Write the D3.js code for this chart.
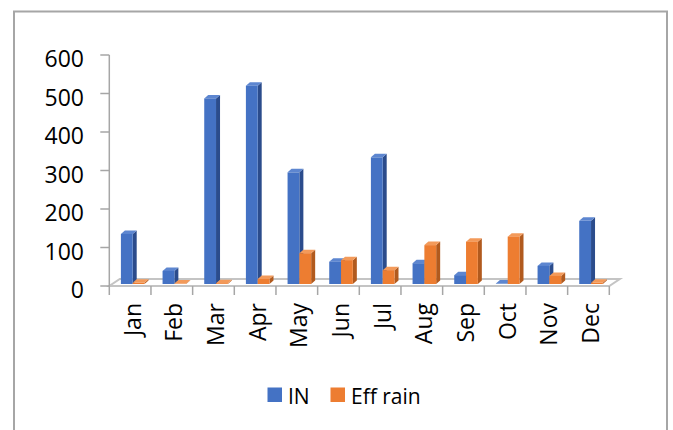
<!DOCTYPE html>
<html>
<head>
<meta charset="utf-8">
<script src="https://cdn.jsdelivr.net/npm/d3@7"></script>
<style>
  html, body { margin: 0; padding: 0; background: #ffffff; }
  svg { display: block; font-family: "Open Sans", "Noto Sans", sans-serif; }
</style>
</head>
<body>
<svg id="chart" width="673" height="430"></svg>
<script>
// Monthly rainfall: gross (IN) and effective rain
const months = ["Jan", "Feb", "Mar", "Apr", "May", "Jun", "Jul", "Aug", "Sep", "Oct", "Nov", "Dec"];
const inValues = [130, 34, 482, 515, 290, 58, 329, 54, 23, 1, 47, 164];
const effRain = [3, 1, 2, 13, 80, 62, 36, 101, 110, 123, 21, 3];
const yTicks = [0, 100, 200, 300, 400, 500, 600];
const seriesNames = ["IN", "Eff rain"];

const palette = {
  IN: { front: "#4472C4", side: "#2B4C8C", top: "#5D86D0" },
  "Eff rain": { front: "#ED7D31", side: "#B15A1E", top: "#F39A5A" }
};

const svg = d3.select("#chart");

// chart frame
svg.append("rect")
  .attr("x", 14).attr("y", 11.5)
  .attr("width", 653).attr("height", 440)
  .attr("fill", "none").attr("stroke", "#a6a6a6").attr("stroke-width", 2);

const x = d3.scaleBand().domain(months).range([109.3, 609.3]).padding(0);
const y = d3.scaleLinear().domain([0, 600]).range([286, 55]);

// 3D depth offsets
const floorDx = 10.5, floorDy = -7;
const barDx = 4, barDy = -3.5;
const baseShift = -2;          // bars stand part-way into the floor
const barW = 11.8;

const axisColor = "#a6a6a6";

// floor
const fl = [
  [x.range()[0], y(0)], [x.range()[1], y(0)],
  [x.range()[1] + floorDx, y(0) + floorDy], [x.range()[0] + floorDx, y(0) + floorDy]
];
svg.append("path")
  .attr("d", d3.line()(fl) + "Z")
  .attr("fill", "#ffffff").attr("stroke", "#c4c4c4").attr("stroke-width", 2);

// value axis
svg.append("line")
  .attr("x1", x.range()[0]).attr("x2", x.range()[0])
  .attr("y1", y(600)).attr("y2", y(0))
  .attr("stroke", axisColor).attr("stroke-width", 1.5);

const yAxis = svg.append("g");
yAxis.selectAll("line.tick").data(yTicks).join("line")
  .attr("x1", x.range()[0] - 9).attr("x2", x.range()[0])
  .attr("y1", d => y(d)).attr("y2", d => y(d))
  .attr("stroke", axisColor).attr("stroke-width", 1.5);
yAxis.selectAll("text").data(yTicks).join("text")
  .attr("x", 84).attr("y", d => y(d) + 3)
  .attr("text-anchor", "end").attr("dominant-baseline", "central")
  .attr("font-size", 23).attr("fill", "#000")
  .text(d => d);

// category ticks
const catBounds = months.map(m => x(m)).concat([x.range()[1]]);
svg.append("g").selectAll("line").data(catBounds).join("line")
  .attr("x1", d => d).attr("x2", d => d)
  .attr("y1", y(0)).attr("y2", y(0) + 9)
  .attr("stroke", axisColor).attr("stroke-width", 1.5);

// category labels, rotated
svg.append("g").selectAll("text").data(months).join("text")
  .attr("transform", m => `translate(${x(m) + x.bandwidth() / 2 + 1.5},303) rotate(-90)`)
  .attr("text-anchor", "end").attr("dominant-baseline", "central")
  .attr("font-size", 23).attr("fill", "#000")
  .text(m => m);

// 3D bars
function drawBar(g, x0, value, colors) {
  const base = y(0) + baseShift;
  const top = base - (y(0) - y(value));
  const x1 = x0 + barW;
  // side face
  g.append("path")
    .attr("d", d3.line()([[x1, base], [x1, top], [x1 + barDx, top + barDy], [x1 + barDx, base + barDy]]) + "Z")
    .attr("fill", colors.side);
  // top face
  g.append("path")
    .attr("d", d3.line()([[x0, top], [x1, top], [x1 + barDx, top + barDy], [x0 + barDx, top + barDy]]) + "Z")
    .attr("fill", colors.top);
  // front face
  g.append("rect")
    .attr("x", x0).attr("y", top)
    .attr("width", barW).attr("height", base - top)
    .attr("fill", colors.front);
}

const bars = svg.append("g");
months.forEach((m, i) => {
  drawBar(bars, x(m) + 11.6, inValues[i], palette.IN);
  drawBar(bars, x(m) + 11.6 + barW, effRain[i], palette["Eff rain"]);
});

// legend
const legendItems = [
  { name: seriesNames[0], x: 267.5 },
  { name: seriesNames[1], x: 330.5 }
];
const lg = svg.append("g");
legendItems.forEach(it => {
  lg.append("rect")
    .attr("x", it.x).attr("y", 387.5)
    .attr("width", 14.5).attr("height", 14.5)
    .attr("fill", palette[it.name].front);
  lg.append("text")
    .attr("x", it.x + 20.5).attr("y", 395.5)
    .attr("dominant-baseline", "central")
    .attr("font-size", 21).attr("fill", "#000")
    .text(it.name);
});
</script>
</body>
</html>
